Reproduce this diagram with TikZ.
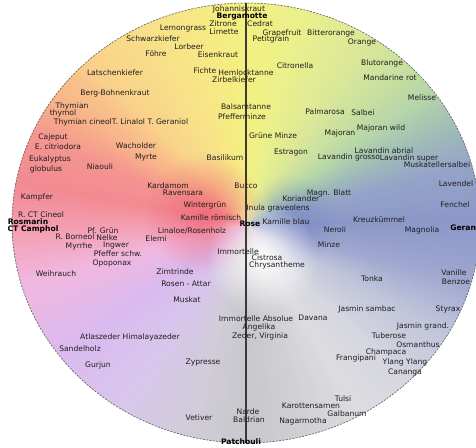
\documentclass[tikz,border=0pt]{standalone}
\usepackage{fontspec}
\setmainfont{DejaVu Sans}
\usetikzlibrary{fadings}
\definecolor{txt}{HTML}{1E1E1E}
\definecolor{axisc}{HTML}{3A3A3A}
\definecolor{k000}{HTML}{F4F080}
\definecolor{k015}{HTML}{EAF08C}
\definecolor{k032}{HTML}{DCE898}
\definecolor{k045}{HTML}{C8E0A0}
\definecolor{k055}{HTML}{B4D4AA}
\definecolor{k065}{HTML}{A0BCB8}
\definecolor{k075}{HTML}{94A4C8}
\definecolor{k090}{HTML}{8C98C8}
\definecolor{k105}{HTML}{A0A8D0}
\definecolor{k118}{HTML}{C0C4DA}
\definecolor{k135}{HTML}{D6D6E0}
\definecolor{k150}{HTML}{DCDCE0}
\definecolor{k165}{HTML}{D0D0D4}
\definecolor{k180}{HTML}{C8C8CC}
\definecolor{k195}{HTML}{D0CCD8}
\definecolor{k215}{HTML}{D8C6EC}
\definecolor{k235}{HTML}{DABAF0}
\definecolor{k255}{HTML}{F0B8E0}
\definecolor{k268}{HTML}{F4A0B4}
\definecolor{k280}{HTML}{F28A92}
\definecolor{k292}{HTML}{F49490}
\definecolor{k302}{HTML}{F8B08A}
\definecolor{k318}{HTML}{F9D48A}
\definecolor{k333}{HTML}{F8E08A}
\definecolor{k348}{HTML}{F6EA84}
\definecolor{glowred}{HTML}{F0687A}
\definecolor{glowblue}{HTML}{7484C4}
\tikzfading[name=glow, inner color=transparent!0, outer color=transparent!100]
\tikzset{
  lbl/.style={font=\fontsize{5.7}{6}\selectfont, text=txt, inner sep=0pt},
  blbl/.style={lbl, font=\fontsize{5.7}{6}\selectfont\bfseries, text=black},
  axis/.style={draw=axisc, line width=1pt},
  rim/.style={draw=black!60, line width=0.5pt, dash pattern=on 1.5pt off 1pt}
}
\begin{document}
\begin{tikzpicture}[x=0.75pt, y=-0.75pt]
\useasboundingbox (0,0) rectangle (476,448);
\fill[white] (0,0) rectangle (476,448);
\coordinate (C) at (247,224);
\begin{scope}
  \clip (246,223) ellipse [x radius=175.5pt, y radius=165pt];
  \foreach \ba/\bb/\ca/\cb in {0/15/k000/k015, 15/32/k015/k032, 32/45/k032/k045,
      45/55/k045/k055, 55/65/k055/k065, 65/75/k065/k075, 75/90/k075/k090,
      90/105/k090/k105, 105/118/k105/k118, 118/135/k118/k135, 135/150/k135/k150,
      150/165/k150/k165, 165/180/k165/k180, 180/195/k180/k195, 195/215/k195/k215,
      215/235/k215/k235, 235/255/k235/k255, 255/268/k255/k268, 268/280/k268/k280,
      280/292/k280/k292, 292/302/k292/k302, 302/318/k302/k318, 318/333/k318/k333,
      333/348/k333/k348, 348/360/k348/k000} {
    \pgfmathtruncatemacro\nn{\bb-\ba}
    \foreach \k in {1,...,\nn} {
      \pgfmathsetmacro\ta{\ba+\k-1-90}
      \pgfmathsetmacro\tb{\ba+\k-90+0.5}
      \pgfmathtruncatemacro\pp{100-100*(\k-0.5)/\nn}
      \fill[\ca!\pp!\cb] (C) -- +(\ta:420) -- +(\tb:420) -- cycle;
    }
  }
  \fill[glowred, path fading=glow, opacity=0.8] (205,214) circle [radius=45pt];
  \fill[glowblue, path fading=glow, opacity=0.6] (292,222) circle [radius=35pt];
  \fill[white, path fading=glow, opacity=0.95] (262,258) circle [radius=42pt];
\end{scope}
\draw[rim] (246,223) ellipse [x radius=175.5pt, y radius=165pt];
\coordinate (top) at (246,3);
\coordinate (bot) at (246,443);
\draw[axis] (top) -- (bot);
% labels
\node[lbl] (n001) at (239,9) {Johanniskraut};
\node[blbl] (n002) at (242,17) {Bergamotte};
\node[lbl] (n003) at (223,24) {Zitrone};
\node[lbl] (n004) at (260,24) {Cedrat};
\node[lbl] (n005) at (183,29) {Lemongrass};
\node[lbl] (n006) at (224,32) {Limette};
\node[lbl] (n007) at (282,33) {Grapefruit};
\node[lbl] (n008) at (331,33) {Bitterorange};
\node[lbl] (n009) at (153,39) {Schwarzkiefer};
\node[lbl] (n010) at (271,39) {Petitgrain};
\node[lbl] (n011) at (362,42) {Orange};
\node[lbl] (n012) at (189,47) {Lorbeer};
\node[lbl] (n013) at (156,54) {Föhre};
\node[lbl] (n014) at (218,55) {Eisenkraut};
\node[lbl] (n015) at (382,63) {Blutorange};
\node[lbl] (n016) at (295,66) {Citronella};
\node[lbl] (n017) at (205,71) {Fichte};
\node[lbl] (n018) at (246,73) {Hemlocktanne};
\node[lbl] (n019) at (115,73) {Latschenkiefer};
\node[lbl] (n020) at (390,78) {Mandarine rot};
\node[lbl] (n021) at (234,80) {Zirbelkiefer};
\node[lbl] (n022) at (115,93) {Berg-Bohnenkraut};
\node[lbl] (n023) at (422,98) {Melisse};
\node[lbl] (n024) at (72,106) {Thymian};
\node[lbl] (n025) at (63,113) {thymol};
\node[lbl] (n026) at (246,107) {Balsamtanne};
\node[lbl] (n027) at (325,112) {Palmarosa};
\node[lbl] (n028) at (363,113) {Salbei};
\node[lbl] (n029) at (242,117) {Pfefferminze};
\node[lbl] (n030) at (121,122) {Thymian cineolT. Linalol T. Geraniol};
\node[lbl] (n031) at (53,137) {Cajeput};
\node[lbl] (n032) at (273,136) {Grüne Minze};
\node[lbl] (n033) at (340,133) {Majoran};
\node[lbl] (n034) at (381,128) {Majoran wild};
\node[lbl] (n035) at (136,146) {Wacholder};
\node[lbl] (n036) at (58,147) {E. citriodora};
\node[lbl] (n037) at (384,151) {Lavandin abrial};
\node[lbl] (n038) at (291,153) {Estragon};
\node[lbl] (n039) at (349,157) {Lavandin grosso};
\node[lbl] (n040) at (409,158) {Lavandin super};
\node[lbl] (n041) at (225,158) {Basilikum};
\node[lbl] (n042) at (146,158) {Myrte};
\node[lbl] (n043) at (50,159) {Eukalyptus};
\node[lbl] (n044) at (437,165) {Muskatellersalbei};
\node[lbl] (n045) at (100,167) {Niaouli};
\node[lbl] (n046) at (46,169) {globulus};
\node[lbl] (n047) at (456,184) {Lavendel};
\node[lbl] (n048) at (168,186) {Kardamom};
\node[lbl] (n049) at (246,186) {Bucco};
\node[lbl] (n050) at (183,193) {Ravensara};
\node[lbl] (n051) at (329,193) {Magn. Blatt};
\node[lbl] (n052) at (37,197) {Kampfer};
\node[lbl] (n053) at (301,199) {Koriander};
\node[lbl] (n054) at (455,205) {Fenchel};
\node[lbl] (n055) at (205,205) {Wintergrün};
\node[lbl] (n056) at (278,208) {Inula graveolens};
\node[lbl] (n057) at (41,215) {R. CT Cineol};
\node[lbl] (n058) at (211,218) {Kamille römisch};
\node[lbl] (n059) at (379,220) {Kreuzkümmel};
\node[lbl] (n060) at (286,222) {Kamille blau};
\node[blbl] (n061) at (28,222) {Rosmarin};
\node[blbl] (n062) at (250,224) {Rose};
\node[blbl] (n063) at (33,229) {CT Camphol};
\node[lbl] (n064) at (335,230) {Neroli};
\node[lbl] (n065) at (422,230) {Magnolia};
\node[blbl, anchor=west] (n066) at (450,228) {Geranium};
\node[lbl] (n067) at (103,231) {Pf. Grün};
\node[lbl] (n068) at (192,231) {Linaloe/Rosenholz};
\node[lbl] (n069) at (75,237) {R. Borneol};
\node[lbl] (n070) at (107,238) {Nelke};
\node[lbl] (n071) at (156,239) {Elemi};
\node[lbl] (n072) at (329,245) {Minze};
\node[lbl] (n073) at (79,246) {Myrrhe};
\node[lbl] (n074) at (116,246) {Ingwer};
\node[lbl] (n075) at (238,252) {Immortelle};
\node[lbl] (n076) at (118,254) {Pfeffer schw.};
\node[lbl] (n077) at (267,258) {Cistrosa};
\node[lbl] (n078) at (112,263) {Opoponax};
\node[lbl] (n079) at (277,265) {Chrysantheme};
\node[lbl] (n080) at (175,272) {Zimtrinde};
\node[lbl] (n081) at (56,274) {Weihrauch};
\node[lbl] (n082) at (454,273) {Vanille};
\node[lbl] (n083) at (372,279) {Tonka};
\node[lbl] (n084) at (456,282) {Benzoe};
\node[lbl] (n085) at (186,284) {Rosen - Attar};
\node[lbl] (n086) at (187,300) {Muskat};
\node[lbl] (n087) at (367,309) {Jasmin sambac};
\node[lbl] (n088) at (448,309) {Styrax};
\node[lbl] (n089) at (313,318) {Davana};
\node[lbl] (n090) at (256,319) {Immortelle Absolue};
\node[lbl] (n091) at (423,326) {Jasmin grand.};
\node[lbl] (n092) at (259,327) {Angelika};
\node[lbl] (n093) at (260,336) {Zeder, Virginia};
\node[lbl] (n094) at (389,336) {Tuberose};
\node[lbl] (n095) at (130,337) {Atlaszeder Himalayazeder};
\node[lbl] (n096) at (418,345) {Osmanthus};
\node[lbl] (n097) at (80,349) {Sandelholz};
\node[lbl] (n098) at (386,352) {Champaca};
\node[lbl] (n099) at (356,358) {Frangipani};
\node[lbl] (n100) at (405,362) {Ylang Ylang};
\node[lbl] (n101) at (203,363) {Zypresse};
\node[lbl] (n102) at (98,365) {Gurjun};
\node[lbl] (n103) at (405,372) {Cananga};
\node[lbl] (n104) at (343,399) {Tulsi};
\node[lbl] (n105) at (311,406) {Karottensamen};
\node[lbl] (n106) at (248,412) {Narde};
\node[lbl] (n107) at (347,414) {Galbanum};
\node[lbl] (n108) at (199,418) {Vetiver};
\node[lbl] (n109) at (249,420) {Baldrian};
\node[lbl] (n110) at (303,421) {Nagarmotha};
\node[blbl] (n111) at (241,442) {Patchouli};
\end{tikzpicture}
\end{document}
